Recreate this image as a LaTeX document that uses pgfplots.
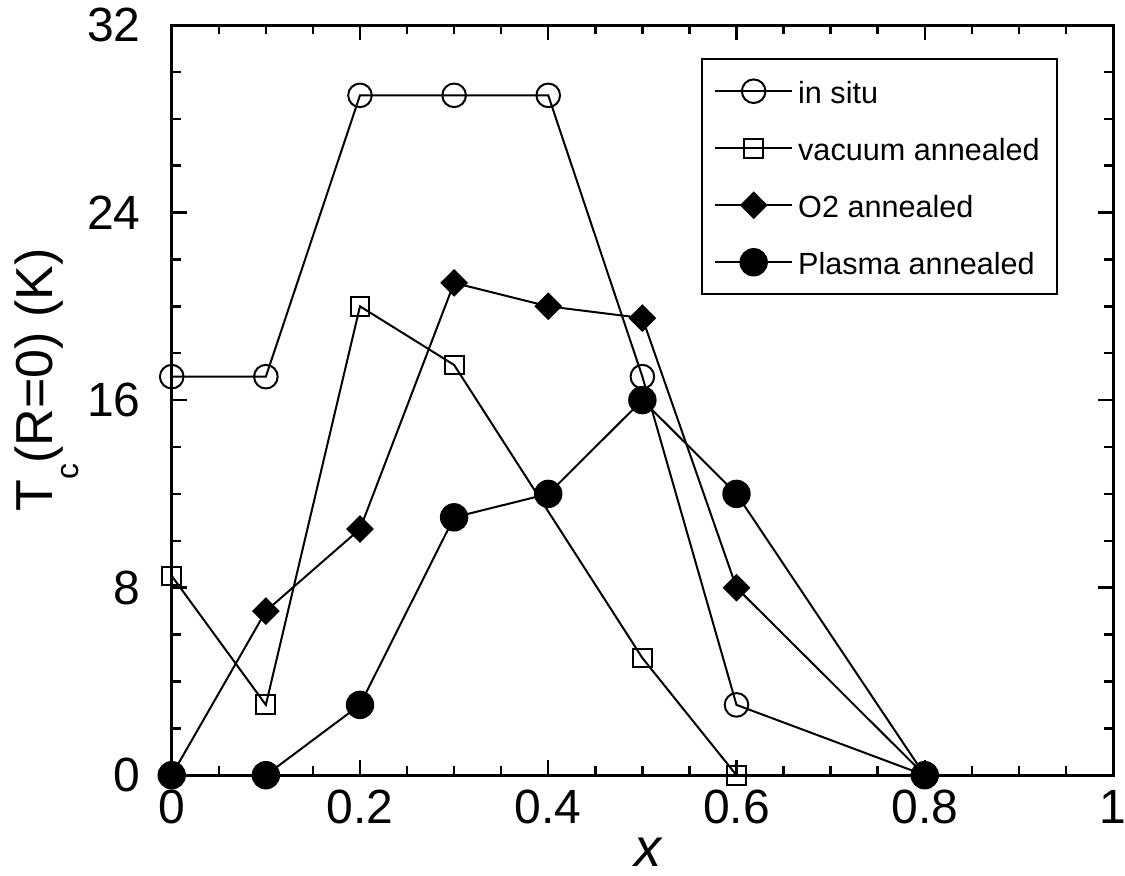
\documentclass[border=0pt]{standalone}
\usepackage{fontspec}
\setmainfont{Liberation Sans}
\usepackage{pgfplots}
\pgfplotsset{compat=1.18}
\begin{document}
\begin{tikzpicture}
\begin{axis}[
  scale only axis, width=470.5pt, height=375pt,
  xmin=0, xmax=1, ymin=0, ymax=32,
  xtick={0,0.2,0.4,0.6,0.8,1}, ytick={0,8,16,24,32},
  minor x tick num=3, minor y tick num=3,
  tick pos=both, tick align=inside,
  major tick length=7.5pt, minor tick length=4.5pt,
  every tick/.style={black, line width=1.2pt},
  axis line style={line width=1.5pt},
  clip=false,
  /pgf/number format/assume math mode=true,
  xticklabel style={font=\fontsize{24}{28}\selectfont, yshift=-4pt},
  yticklabel style={font=\fontsize{24}{28}\selectfont, xshift=-12pt},
  xlabel={\textit{x}},
  xlabel style={font=\fontsize{27}{30}\selectfont, inner sep=0pt, at={(axis description cs:0.507,-0.1213)}, anchor=base},
  ylabel={T\raisebox{-13pt}{\fontsize{16}{16}\selectfont c}(R=0) (K)},
  ylabel style={font=\fontsize{26}{30}\selectfont, inner sep=0pt, at={(axis description cs:-0.1272,0.527)}, anchor=base},
  legend cell align=left,
  legend image code/.code={\draw[mark repeat=2,mark phase=2,#1] plot coordinates {(0pt,0pt)(19.25pt,0pt)(38.5pt,0pt)};},
  legend style={at={(rel axis cs:0.9416,0.956)}, anchor=north east, draw=black, line width=1.2pt,
    font=\fontsize{15.3}{18}\selectfont, row sep=10.5pt, inner xsep=6pt, inner ysep=7pt,
    nodes={inner xsep=2.5pt, inner ysep=1.5pt, text height=13.5pt, text depth=1.5pt}},
  every axis plot/.append style={black, line width=1pt},
]
\addplot[mark=o, mark size=5.9pt, mark options={line width=1pt, solid}] coordinates {
(0,17)(0.1,17)(0.2,29)(0.3,29)(0.4,29)(0.5,17)(0.6,3)(0.8,0)};
\addlegendentry{in situ}
\addplot[mark=square, mark size=4.7pt, mark options={line width=1pt, solid}] coordinates {
(0,8.5)(0.1,3)(0.2,20)(0.3,17.5)(0.5,5)(0.6,0)};
\addlegendentry{vacuum annealed}
\addplot[mark=square*, mark size=4.4pt, mark options={rotate=45, fill=black}] coordinates {
(0,0)(0.1,7)(0.2,10.5)(0.3,21)(0.4,20)(0.5,19.5)(0.6,8)(0.8,0)};
\addlegendentry{O2 annealed}
\addplot[mark=*, mark size=6.6pt, mark options={fill=black}] coordinates {
(0,0)(0.1,0)(0.2,3)(0.3,11)(0.4,12)(0.5,16)(0.6,12)(0.8,0)};
\addlegendentry{Plasma annealed}
\coordinate (sw) at (rel axis cs:0,0);
\coordinate (ne) at (rel axis cs:1,1);
\end{axis}
\pgfresetboundingbox
\path ([shift={(-85.85pt,-50pt)}]sw) rectangle ([shift={(6pt,12.5pt)}]ne);
\end{tikzpicture}
\end{document}
